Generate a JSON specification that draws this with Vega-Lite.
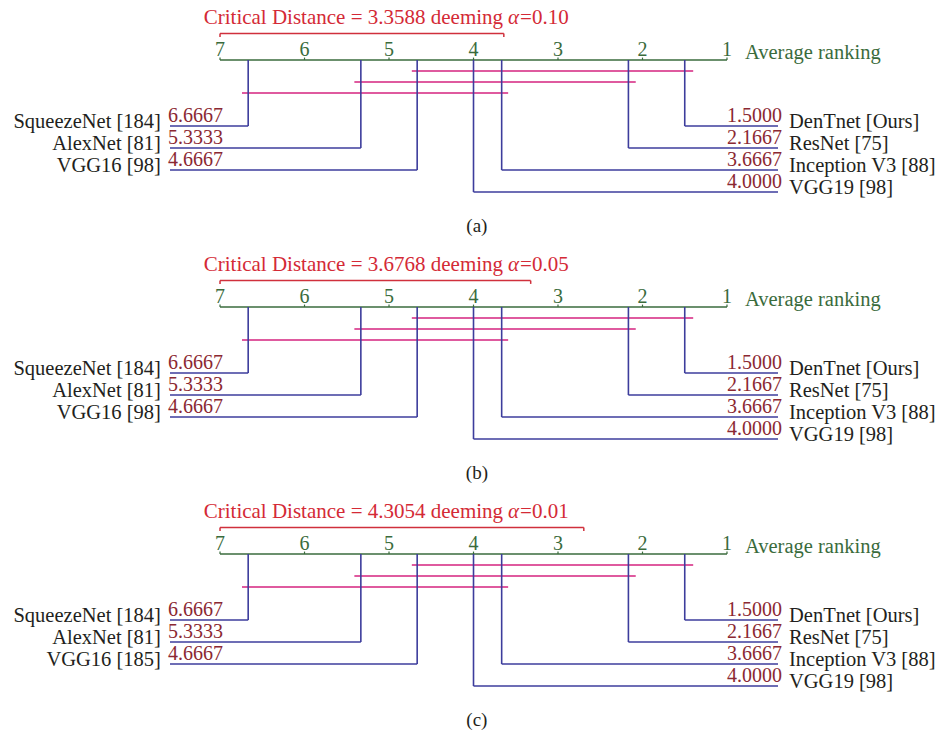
{
  "$schema": "https://vega.github.io/schema/vega-lite/v6.json",
  "padding": 0,
  "background": "white",
  "bounds": "flush",
  "spacing": 27,
  "config": {"view": {"stroke": null}, "text": {"font": "Liberation Serif"}},
  "data": {"values": [
    {"panel": "a", "type": "cd", "from": 7, "to": 3.6412, "title": "Critical Distance = 3.3588 deeming", "alpha": "=0.10"},
    {"panel": "b", "type": "cd", "from": 7, "to": 3.3232, "title": "Critical Distance = 3.6768 deeming", "alpha": "=0.05"},
    {"panel": "c", "type": "cd", "from": 7, "to": 2.6946, "title": "Critical Distance = 4.3054 deeming", "alpha": "=0.01"},
    {"panel": "a", "type": "axis", "from": 7, "to": 1},
    {"panel": "b", "type": "axis", "from": 7, "to": 1},
    {"panel": "c", "type": "axis", "from": 7, "to": 1},
    {"panel": "a", "type": "tick", "rank": 1}, {"panel": "a", "type": "tick", "rank": 2}, {"panel": "a", "type": "tick", "rank": 3}, {"panel": "a", "type": "tick", "rank": 4}, {"panel": "a", "type": "tick", "rank": 5}, {"panel": "a", "type": "tick", "rank": 6}, {"panel": "a", "type": "tick", "rank": 7},
    {"panel": "b", "type": "tick", "rank": 1}, {"panel": "b", "type": "tick", "rank": 2}, {"panel": "b", "type": "tick", "rank": 3}, {"panel": "b", "type": "tick", "rank": 4}, {"panel": "b", "type": "tick", "rank": 5}, {"panel": "b", "type": "tick", "rank": 6}, {"panel": "b", "type": "tick", "rank": 7},
    {"panel": "c", "type": "tick", "rank": 1}, {"panel": "c", "type": "tick", "rank": 2}, {"panel": "c", "type": "tick", "rank": 3}, {"panel": "c", "type": "tick", "rank": 4}, {"panel": "c", "type": "tick", "rank": 5}, {"panel": "c", "type": "tick", "rank": 6}, {"panel": "c", "type": "tick", "rank": 7},
    {"panel": "a", "type": "clique", "from": 4.73, "to": 1.40, "level": 1},
    {"panel": "a", "type": "clique", "from": 5.41, "to": 2.08, "level": 2},
    {"panel": "a", "type": "clique", "from": 6.74, "to": 3.59, "level": 3},
    {"panel": "b", "type": "clique", "from": 4.73, "to": 1.40, "level": 1},
    {"panel": "b", "type": "clique", "from": 5.41, "to": 2.08, "level": 2},
    {"panel": "b", "type": "clique", "from": 6.74, "to": 3.59, "level": 3},
    {"panel": "c", "type": "clique", "from": 4.73, "to": 1.40, "level": 1},
    {"panel": "c", "type": "clique", "from": 5.41, "to": 2.08, "level": 2},
    {"panel": "c", "type": "clique", "from": 6.74, "to": 3.59, "level": 3},
    {"panel": "a", "type": "model", "model": "DenTnet [Ours]", "rank": 1.5, "side": "right", "level": 6},
    {"panel": "a", "type": "model", "model": "ResNet [75]", "rank": 2.1667, "side": "right", "level": 8},
    {"panel": "a", "type": "model", "model": "Inception V3 [88]", "rank": 3.6667, "side": "right", "level": 10},
    {"panel": "a", "type": "model", "model": "VGG19 [98]", "rank": 4.0, "side": "right", "level": 12},
    {"panel": "a", "type": "model", "model": "SqueezeNet [184]", "rank": 6.6667, "side": "left", "level": 6},
    {"panel": "a", "type": "model", "model": "AlexNet [81]", "rank": 5.3333, "side": "left", "level": 8},
    {"panel": "a", "type": "model", "model": "VGG16 [98]", "rank": 4.6667, "side": "left", "level": 10},
    {"panel": "b", "type": "model", "model": "DenTnet [Ours]", "rank": 1.5, "side": "right", "level": 6},
    {"panel": "b", "type": "model", "model": "ResNet [75]", "rank": 2.1667, "side": "right", "level": 8},
    {"panel": "b", "type": "model", "model": "Inception V3 [88]", "rank": 3.6667, "side": "right", "level": 10},
    {"panel": "b", "type": "model", "model": "VGG19 [98]", "rank": 4.0, "side": "right", "level": 12},
    {"panel": "b", "type": "model", "model": "SqueezeNet [184]", "rank": 6.6667, "side": "left", "level": 6},
    {"panel": "b", "type": "model", "model": "AlexNet [81]", "rank": 5.3333, "side": "left", "level": 8},
    {"panel": "b", "type": "model", "model": "VGG16 [98]", "rank": 4.6667, "side": "left", "level": 10},
    {"panel": "c", "type": "model", "model": "DenTnet [Ours]", "rank": 1.5, "side": "right", "level": 6},
    {"panel": "c", "type": "model", "model": "ResNet [75]", "rank": 2.1667, "side": "right", "level": 8},
    {"panel": "c", "type": "model", "model": "Inception V3 [88]", "rank": 3.6667, "side": "right", "level": 10},
    {"panel": "c", "type": "model", "model": "VGG19 [98]", "rank": 4.0, "side": "right", "level": 12},
    {"panel": "c", "type": "model", "model": "SqueezeNet [184]", "rank": 6.6667, "side": "left", "level": 6},
    {"panel": "c", "type": "model", "model": "AlexNet [81]", "rank": 5.3333, "side": "left", "level": 8},
    {"panel": "c", "type": "model", "model": "VGG16 [185]", "rank": 4.6667, "side": "left", "level": 10},
    {"panel": "a", "type": "caption", "label": "(a)"},
    {"panel": "b", "type": "caption", "label": "(b)"},
    {"panel": "c", "type": "caption", "label": "(c)"}
  ]},
  "facet": {"row": {"field": "panel", "type": "nominal", "header": null}},
  "spec": {
    "width": 940,
    "height": 220,
    "layer": [
      {
        "transform": [{"filter": "datum.type === 'cd'"}],
        "mark": {"type": "rule", "color": "#d0303c", "strokeWidth": 1.5},
        "encoding": {
          "x": {"field": "from", "type": "quantitative", "scale": {"domain": [-1.521, 9.604], "reverse": true, "nice": false, "zero": false}, "axis": null},
          "x2": {"field": "to"},
          "y": {"datum": -2.4, "type": "quantitative", "scale": {"domain": [-5.4545, 14.5455], "reverse": true, "nice": false, "zero": false}, "axis": null}
        }
      },
      {
        "transform": [{"filter": "datum.type === 'cd'"}],
        "mark": {"type": "rule", "color": "#d0303c", "strokeWidth": 1.5},
        "encoding": {
          "x": {"field": "from", "type": "quantitative", "scale": {"domain": [-1.521, 9.604], "reverse": true, "nice": false, "zero": false}, "axis": null},
          "y": {"datum": -2.4, "type": "quantitative", "scale": {"domain": [-5.4545, 14.5455], "reverse": true, "nice": false, "zero": false}, "axis": null},
          "y2": {"datum": -2.1}
        }
      },
      {
        "transform": [{"filter": "datum.type === 'cd'"}],
        "mark": {"type": "rule", "color": "#d0303c", "strokeWidth": 1.5},
        "encoding": {
          "x": {"field": "to", "type": "quantitative", "scale": {"domain": [-1.521, 9.604], "reverse": true, "nice": false, "zero": false}, "axis": null},
          "y": {"datum": -2.4, "type": "quantitative", "scale": {"domain": [-5.4545, 14.5455], "reverse": true, "nice": false, "zero": false}, "axis": null},
          "y2": {"datum": -2.1}
        }
      },
      {
        "transform": [{"filter": "datum.type === 'cd'"}],
        "mark": {"type": "text", "color": "#d42a36", "fontSize": 21, "align": "right", "baseline": "alphabetic"},
        "encoding": {
          "x": {"datum": 3.65, "type": "quantitative", "scale": {"domain": [-1.521, 9.604], "reverse": true, "nice": false, "zero": false}, "axis": null},
          "y": {"datum": -3.3, "type": "quantitative", "scale": {"domain": [-5.4545, 14.5455], "reverse": true, "nice": false, "zero": false}, "axis": null},
          "text": {"field": "title", "type": "nominal"}
        }
      },
      {
        "transform": [{"filter": "datum.type === 'cd'"}],
        "mark": {"type": "text", "color": "#d42a36", "fontSize": 21, "align": "left", "baseline": "alphabetic", "fontStyle": "italic", "dx": 5, "text": "α"},
        "encoding": {
          "x": {"datum": 3.65, "type": "quantitative", "scale": {"domain": [-1.521, 9.604], "reverse": true, "nice": false, "zero": false}, "axis": null},
          "y": {"datum": -3.3, "type": "quantitative", "scale": {"domain": [-5.4545, 14.5455], "reverse": true, "nice": false, "zero": false}, "axis": null}
        }
      },
      {
        "transform": [{"filter": "datum.type === 'cd'"}],
        "mark": {"type": "text", "color": "#d42a36", "fontSize": 21, "align": "left", "baseline": "alphabetic", "dx": 17},
        "encoding": {
          "x": {"datum": 3.65, "type": "quantitative", "scale": {"domain": [-1.521, 9.604], "reverse": true, "nice": false, "zero": false}, "axis": null},
          "y": {"datum": -3.3, "type": "quantitative", "scale": {"domain": [-5.4545, 14.5455], "reverse": true, "nice": false, "zero": false}, "axis": null},
          "text": {"field": "alpha", "type": "nominal"}
        }
      },
      {
        "transform": [{"filter": "datum.type === 'axis'"}],
        "mark": {"type": "rule", "color": "#3a6b3c", "strokeWidth": 1.6},
        "encoding": {
          "x": {"field": "from", "type": "quantitative", "scale": {"domain": [-1.521, 9.604], "reverse": true, "nice": false, "zero": false}, "axis": null},
          "x2": {"field": "to"},
          "y": {"datum": 0, "type": "quantitative", "scale": {"domain": [-5.4545, 14.5455], "reverse": true, "nice": false, "zero": false}, "axis": null}
        }
      },
      {
        "transform": [{"filter": "datum.type === 'axis'"}],
        "mark": {"type": "text", "color": "#3a6b3c", "fontSize": 20.5, "align": "left", "baseline": "alphabetic", "dy": -1, "text": "Average ranking"},
        "encoding": {
          "x": {"datum": 0.787, "type": "quantitative", "scale": {"domain": [-1.521, 9.604], "reverse": true, "nice": false, "zero": false}, "axis": null},
          "y": {"datum": 0, "type": "quantitative", "scale": {"domain": [-5.4545, 14.5455], "reverse": true, "nice": false, "zero": false}, "axis": null}
        }
      },
      {
        "transform": [{"filter": "datum.type === 'tick'"}],
        "mark": {"type": "rule", "color": "#3a6b3c", "strokeWidth": 1.2},
        "encoding": {
          "x": {"field": "rank", "type": "quantitative", "scale": {"domain": [-1.521, 9.604], "reverse": true, "nice": false, "zero": false}, "axis": null},
          "y": {"datum": 0, "type": "quantitative", "scale": {"domain": [-5.4545, 14.5455], "reverse": true, "nice": false, "zero": false}, "axis": null},
          "y2": {"datum": -0.22}
        }
      },
      {
        "transform": [{"filter": "datum.type === 'tick'"}],
        "mark": {"type": "text", "color": "#3a6b3c", "fontSize": 20, "align": "center", "baseline": "alphabetic", "dy": -4},
        "encoding": {
          "x": {"field": "rank", "type": "quantitative", "scale": {"domain": [-1.521, 9.604], "reverse": true, "nice": false, "zero": false}, "axis": null},
          "y": {"datum": 0, "type": "quantitative", "scale": {"domain": [-5.4545, 14.5455], "reverse": true, "nice": false, "zero": false}, "axis": null},
          "text": {"field": "rank", "type": "quantitative", "format": "d"}
        }
      },
      {
        "transform": [{"filter": "datum.type === 'clique'"}],
        "mark": {"type": "rule", "color": "#d4237f", "strokeWidth": 1.5},
        "encoding": {
          "x": {"field": "from", "type": "quantitative", "scale": {"domain": [-1.521, 9.604], "reverse": true, "nice": false, "zero": false}, "axis": null},
          "x2": {"field": "to"},
          "y": {"field": "level", "type": "quantitative", "scale": {"domain": [-5.4545, 14.5455], "reverse": true, "nice": false, "zero": false}, "axis": null}
        }
      },
      {
        "transform": [{"filter": "datum.type === 'model'"}],
        "mark": {"type": "rule", "color": "#3d3d9c", "strokeWidth": 1.6},
        "encoding": {
          "x": {"field": "rank", "type": "quantitative", "scale": {"domain": [-1.521, 9.604], "reverse": true, "nice": false, "zero": false}, "axis": null},
          "y": {"field": "level", "type": "quantitative", "scale": {"domain": [-5.4545, 14.5455], "reverse": true, "nice": false, "zero": false}, "axis": null},
          "y2": {"datum": 0}
        }
      },
      {
        "transform": [{"filter": "datum.type === 'model' && datum.side === 'left'"}],
        "mark": {"type": "rule", "color": "#3d3d9c", "strokeWidth": 1.6},
        "encoding": {
          "x": {"field": "rank", "type": "quantitative", "scale": {"domain": [-1.521, 9.604], "reverse": true, "nice": false, "zero": false}, "axis": null},
          "x2": {"datum": 7.592},
          "y": {"field": "level", "type": "quantitative", "scale": {"domain": [-5.4545, 14.5455], "reverse": true, "nice": false, "zero": false}, "axis": null}
        }
      },
      {
        "transform": [{"filter": "datum.type === 'model' && datum.side === 'right'"}],
        "mark": {"type": "rule", "color": "#3d3d9c", "strokeWidth": 1.6},
        "encoding": {
          "x": {"field": "rank", "type": "quantitative", "scale": {"domain": [-1.521, 9.604], "reverse": true, "nice": false, "zero": false}, "axis": null},
          "x2": {"datum": 0.396},
          "y": {"field": "level", "type": "quantitative", "scale": {"domain": [-5.4545, 14.5455], "reverse": true, "nice": false, "zero": false}, "axis": null}
        }
      },
      {
        "transform": [{"filter": "datum.type === 'model' && datum.side === 'left'"}],
        "mark": {"type": "text", "color": "#8b2832", "fontSize": 20, "align": "left", "baseline": "alphabetic", "dy": -4},
        "encoding": {
          "x": {"datum": 7.615, "type": "quantitative", "scale": {"domain": [-1.521, 9.604], "reverse": true, "nice": false, "zero": false}, "axis": null},
          "y": {"field": "level", "type": "quantitative", "scale": {"domain": [-5.4545, 14.5455], "reverse": true, "nice": false, "zero": false}, "axis": null},
          "text": {"field": "rank", "type": "quantitative", "format": ".4f"}
        }
      },
      {
        "transform": [{"filter": "datum.type === 'model' && datum.side === 'right'"}],
        "mark": {"type": "text", "color": "#8b2832", "fontSize": 20, "align": "right", "baseline": "alphabetic", "dy": -4},
        "encoding": {
          "x": {"datum": 0.349, "type": "quantitative", "scale": {"domain": [-1.521, 9.604], "reverse": true, "nice": false, "zero": false}, "axis": null},
          "y": {"field": "level", "type": "quantitative", "scale": {"domain": [-5.4545, 14.5455], "reverse": true, "nice": false, "zero": false}, "axis": null},
          "text": {"field": "rank", "type": "quantitative", "format": ".4f"}
        }
      },
      {
        "transform": [{"filter": "datum.type === 'model' && datum.side === 'left'"}],
        "mark": {"type": "text", "color": "#231f20", "fontSize": 20.5, "align": "right", "baseline": "alphabetic", "dy": 2},
        "encoding": {
          "x": {"datum": 7.70, "type": "quantitative", "scale": {"domain": [-1.521, 9.604], "reverse": true, "nice": false, "zero": false}, "axis": null},
          "y": {"field": "level", "type": "quantitative", "scale": {"domain": [-5.4545, 14.5455], "reverse": true, "nice": false, "zero": false}, "axis": null},
          "text": {"field": "model", "type": "nominal"}
        }
      },
      {
        "transform": [{"filter": "datum.type === 'model' && datum.side === 'right'"}],
        "mark": {"type": "text", "color": "#231f20", "fontSize": 20.5, "align": "left", "baseline": "alphabetic", "dy": 2},
        "encoding": {
          "x": {"datum": 0.266, "type": "quantitative", "scale": {"domain": [-1.521, 9.604], "reverse": true, "nice": false, "zero": false}, "axis": null},
          "y": {"field": "level", "type": "quantitative", "scale": {"domain": [-5.4545, 14.5455], "reverse": true, "nice": false, "zero": false}, "axis": null},
          "text": {"field": "model", "type": "nominal"}
        }
      },
      {
        "transform": [{"filter": "datum.type === 'caption'"}],
        "mark": {"type": "text", "color": "#231f20", "fontSize": 19, "align": "center", "baseline": "middle"},
        "encoding": {
          "x": {"datum": 3.96, "type": "quantitative", "scale": {"domain": [-1.521, 9.604], "reverse": true, "nice": false, "zero": false}, "axis": null},
          "y": {"datum": 15.1, "type": "quantitative", "scale": {"domain": [-5.4545, 14.5455], "reverse": true, "nice": false, "zero": false}, "axis": null},
          "text": {"field": "label", "type": "nominal"}
        }
      }
    ]
  }
}
